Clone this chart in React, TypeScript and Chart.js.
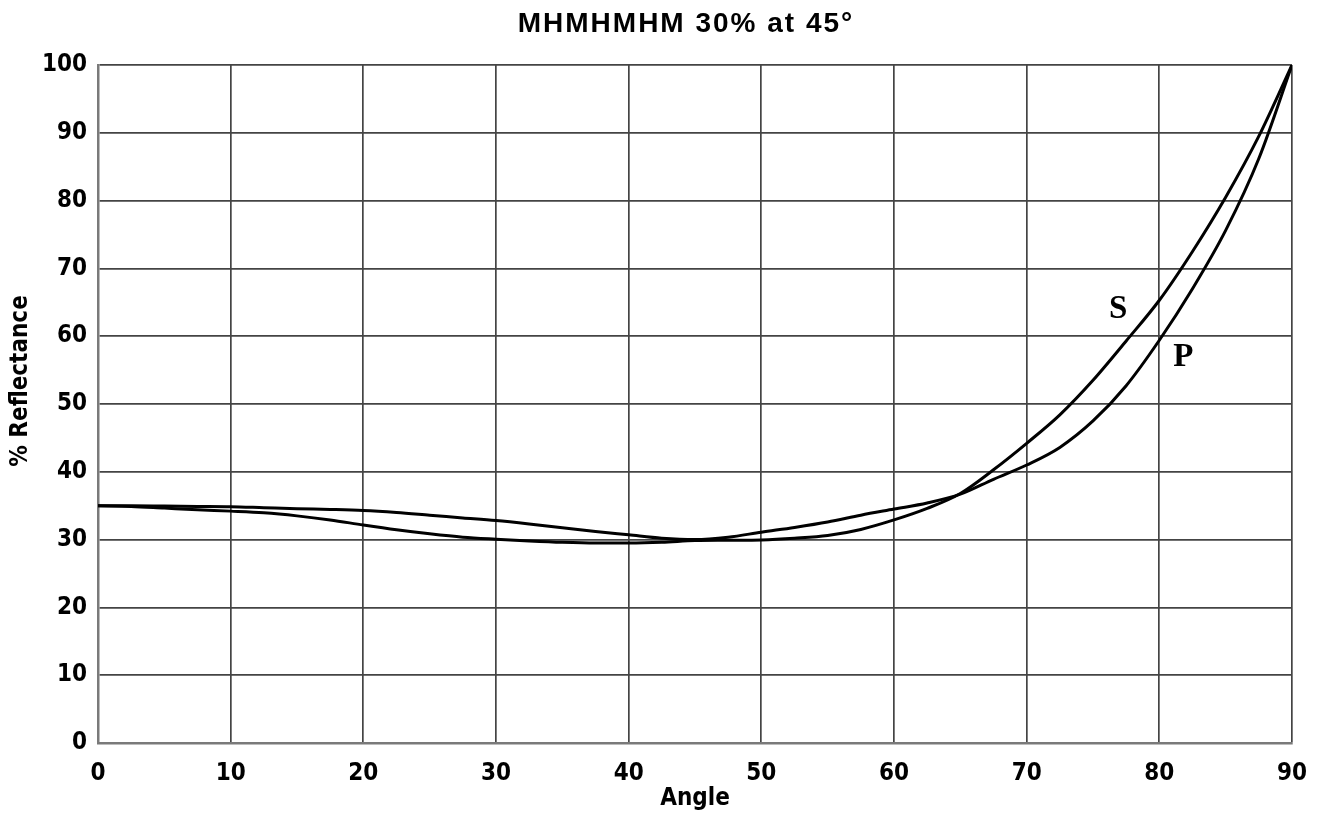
import React, { useEffect, useRef } from "react";
import { Chart, registerables } from "chart.js";

Chart.register(...registerables);

// Incidence angle (degrees)
const angles = [
  0, 2.5, 5, 7.5, 10, 12.5, 15, 17.5, 20, 22.5, 25, 27.5, 30, 32.5, 35, 37.5,
  40, 42.5, 45, 47.5, 50, 52.5, 55, 57.5, 60, 62.5, 65, 67.5, 70, 72.5, 75,
  77.5, 80, 82.5, 85, 87.5, 90,
];

// S-polarised reflectance (%)
const sReflectance = [
  35.0, 34.9, 34.65, 34.4, 34.2, 33.95, 33.5, 32.9, 32.15, 31.45, 30.85, 30.35,
  30.05, 29.8, 29.6, 29.5, 29.5, 29.6, 29.85, 29.9, 29.95, 30.2, 30.6, 31.5,
  32.9, 34.6, 36.8, 40.3, 44.2, 48.4, 53.5, 59.3, 65.3, 72.5, 80.5, 89.5, 100,
];

// P-polarised reflectance (%)
const pReflectance = [
  35.0, 35.0, 34.95, 34.9, 34.85, 34.7, 34.55, 34.45, 34.3, 34.0, 33.6, 33.2,
  32.8, 32.3, 31.75, 31.2, 30.7, 30.2, 30.0, 30.35, 31.1, 31.8, 32.6, 33.6,
  34.5, 35.4, 36.7, 38.9, 41.0, 43.6, 47.5, 52.7, 59.4, 67.0, 75.6, 86.2, 100,
];

const chartTitle = "MHMHMHM 30% at 45°";
const xTitle = "Angle";
const yTitle = "% Reflectance";

// Curve tags: [text, angle, reflectance]
const curveTags: [string, number, number][] = [
  ["S", 76.9, 63.9],
  ["P", 81.8, 56.8],
];

const condensed = "'Liberation Sans Narrow', 'DejaVu Sans Condensed', 'Arial Narrow', sans-serif";

const overlay = {
  id: "overlay",
  afterDraw(chart: any) {
    const { ctx, scales } = chart;
    ctx.save();
    // Heading
    ctx.fillStyle = "#000";
    ctx.font = "bold 28px 'Liberation Sans', Arial, sans-serif";
    (ctx as any).letterSpacing = "2px";
    ctx.textAlign = "center";
    ctx.textBaseline = "middle";
    ctx.fillText(chartTitle, 686, 24);
    (ctx as any).letterSpacing = "0px";
    // Vertical axis caption
    ctx.save();
    ctx.translate(21, 381);
    ctx.rotate(-Math.PI / 2);
    ctx.font = `bold 24px ${condensed}`;
    ctx.fillText(yTitle, 0, 0);
    ctx.restore();
    // S / P tags
    ctx.font = "bold 33px 'Liberation Serif', 'Times New Roman', serif";
    for (const [t, a, r] of curveTags) {
      ctx.fillText(t, scales.x.getPixelForValue(a), scales.y.getPixelForValue(r));
    }
    ctx.restore();
  },
};

export default function App() {
  const ref = useRef<HTMLCanvasElement>(null);

  useEffect(() => {
    document.body.style.margin = "0";
    const canvas = ref.current;
    if (!canvas) return;
    const chart = new Chart(canvas, {
      type: "line",
      data: {
        datasets: [
          {
            label: "S",
            data: angles.map((a, i) => ({ x: a, y: sReflectance[i] })),
            borderColor: "#000",
            borderWidth: 3,
            pointRadius: 0,
            cubicInterpolationMode: "monotone",
          },
          {
            label: "P",
            data: angles.map((a, i) => ({ x: a, y: pReflectance[i] })),
            borderColor: "#000",
            borderWidth: 3,
            pointRadius: 0,
            cubicInterpolationMode: "monotone",
          },
        ],
      },
      options: {
        animation: false,
        responsive: false,
        maintainAspectRatio: false,
        layout: { padding: { top: 65, right: 26, left: 0, bottom: 0 } },
        plugins: {
          legend: { display: false },
          title: { display: false },
          tooltip: { enabled: false },
        },
        scales: {
          x: {
            type: "linear",
            min: 0,
            max: 90,
            afterFit: (s: any) => {
              s.height = 92;
              s.paddingLeft = 0;
              s.paddingRight = 0;
            },
            ticks: {
              stepSize: 10,
              padding: 16,
              color: "#000",
              font: { family: condensed, weight: "bold", size: 24 },
              maxRotation: 0,
            },
            grid: { color: "#444", lineWidth: 1.7, drawTicks: false },
            border: { color: "#7a7a7a", width: 2.5 },
            title: {
              display: true,
              text: xTitle,
              color: "#000",
              font: { family: condensed, weight: "bold", size: 24 },
              padding: { top: 0, bottom: 22 },
            },
          },
          y: {
            type: "linear",
            min: 0,
            max: 100,
            afterFit: (s: any) => {
              s.width = 98;
              s.paddingTop = 0;
              s.paddingBottom = 0;
            },
            ticks: {
              stepSize: 10,
              padding: 11,
              color: "#000",
              font: { family: condensed, weight: "bold", size: 24 },
            },
            grid: { color: "#444", lineWidth: 1.7, drawTicks: false },
            border: { color: "#7a7a7a", width: 2.5 },
            title: { display: false },
          },
        },
      },
      plugins: [overlay],
    });
    return () => chart.destroy();
  }, []);

  return (
    <div style={{ width: 1318, height: 835, background: "#fff" }}>
      <canvas ref={ref} width={1318} height={835} style={{ display: "block" }} />
    </div>
  );
}
